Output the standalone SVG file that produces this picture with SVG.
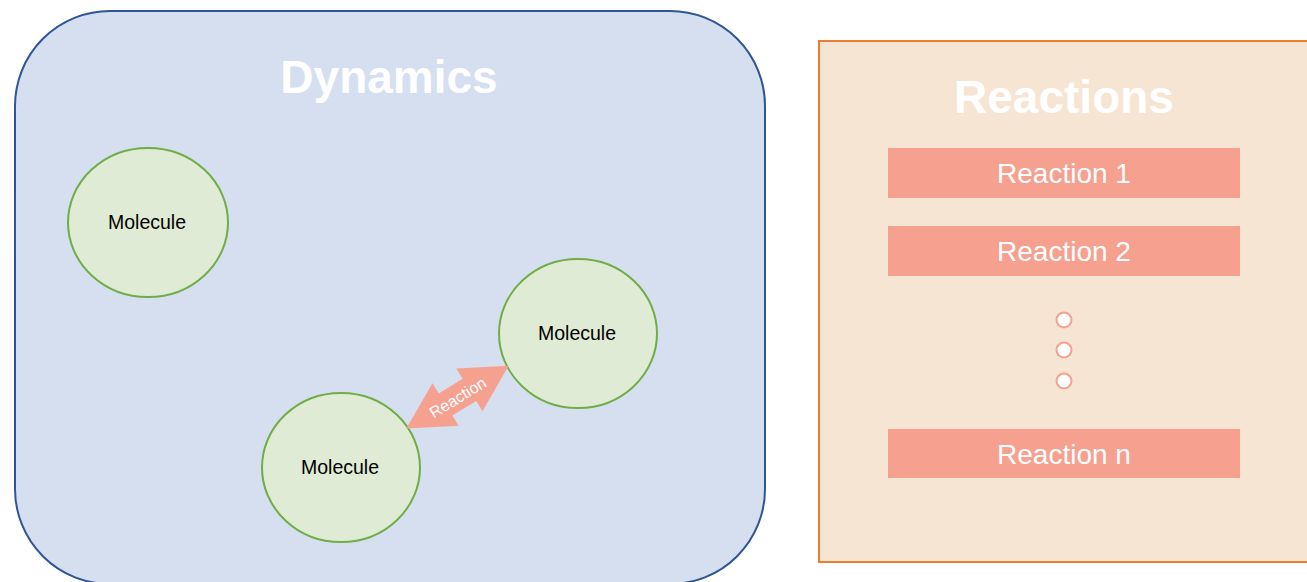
<svg xmlns="http://www.w3.org/2000/svg" width="1307" height="582" viewBox="0 0 1307 582">
<style>
.title{font-family:"Liberation Sans",Arial,sans-serif;font-weight:bold;font-size:46px;fill:#ffffff;text-anchor:middle}
.mol{fill:#E0EBD6;stroke:#70AD47;stroke-width:2}
.moltxt{font-family:"Liberation Sans",Arial,sans-serif;font-size:19.5px;fill:#000000;text-anchor:middle}
.rbox{fill:#F6A190}
.rtxt{font-family:"Liberation Sans",Arial,sans-serif;font-size:28px;fill:#ffffff;text-anchor:middle}
.dot{fill:#ffffff;stroke:#F6A190;stroke-width:2}
</style>
<rect width="1307" height="582" fill="#ffffff"/>
<g id="dynamics">
<rect x="15" y="11" width="750" height="573" rx="95" ry="95" fill="#D5DFF0" stroke="#2F5597" stroke-width="2"/>
<text class="title" x="389" y="93">Dynamics</text>
</g>
<g id="reactions">
<rect x="819" y="41" width="500" height="521" fill="#F7E5D4" stroke="#ED7D31" stroke-width="2"/>
<text class="title" x="1064" y="113">Reactions</text>
</g>
<g id="molecule1">
<ellipse class="mol" cx="148" cy="222.5" rx="80" ry="74.5"/>
<text class="moltxt" x="147" y="229">Molecule</text>
</g>
<g id="molecule2">
<ellipse class="mol" cx="578" cy="333.5" rx="79" ry="74.5"/>
<text class="moltxt" x="577" y="340">Molecule</text>
</g>
<g id="molecule3">
<ellipse class="mol" cx="341" cy="467.5" rx="79" ry="74.5"/>
<text class="moltxt" x="340" y="474">Molecule</text>
</g>
<g id="connectors">
<g transform="translate(457.5,397.2) rotate(-31.5)">
<path d="M-60,0 L-14,-25 L-14,-13 L14,-13 L14,-25 L60,0 L14,25 L14,13 L-14,13 L-14,25 Z" fill="#F6A190"/>
<text x="0" y="6" font-family="'Liberation Sans',Arial,sans-serif" font-size="16" fill="#ffffff" text-anchor="middle">Reaction</text>
</g>
</g>
<g id="reaction1">
<rect class="rbox" x="888" y="148" width="352" height="50"/>
<text class="rtxt" x="1064" y="183">Reaction 1</text>
</g>
<g id="reaction2">
<rect class="rbox" x="888" y="226" width="352" height="50"/>
<text class="rtxt" x="1064" y="261">Reaction 2</text>
</g>
<g id="ellipsis">
<circle class="dot" cx="1064" cy="320" r="7.5"/>
<circle class="dot" cx="1064" cy="350" r="7.5"/>
<circle class="dot" cx="1064" cy="381" r="7.5"/>
</g>
<g id="reactionn">
<rect class="rbox" x="888" y="429" width="352" height="49"/>
<text class="rtxt" x="1064" y="464">Reaction n</text>
</g>
</svg>
